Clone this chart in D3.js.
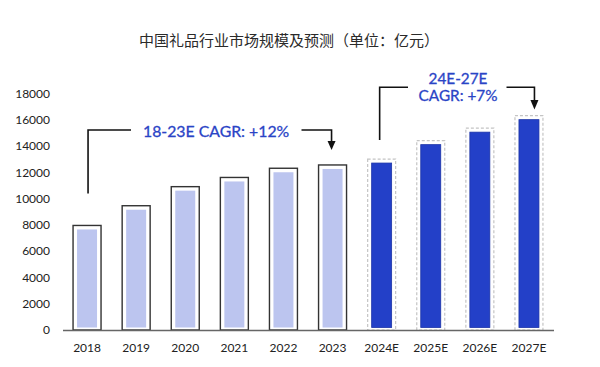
<!DOCTYPE html>
<html>
<head>
<meta charset="utf-8">
<script src="https://cdn.jsdelivr.net/npm/d3@7"></script>
<style>
  html, body { margin: 0; padding: 0; background: #fff; }
  svg { display: block; }
</style>
</head>
<body>
<div id="chart"></div>
<script>
/* --- データ --- */
const years = ["2018", "2019", "2020", "2021", "2022", "2023", "2024E", "2025E", "2026E", "2027E"];
const values = [7950, 9450, 10900, 11600, 12300, 12550, 13000, 14400, 15350, 16300];
const isForecast = [false, false, false, false, false, false, true, true, true, true];
const yTicks = [0, 2000, 4000, 6000, 8000, 10000, 12000, 14000, 16000, 18000];

const titleText = "中国礼品行业市场规模及预测（单位：亿元）";
const cagr1 = ["18-23E CAGR: +12%"];
const cagr2 = ["24E-27E", "CAGR: +7%"];

const width = 600, height = 367;
const margin = { top: 93.3, right: 46.5, bottom: 37, left: 62.5 };

const svg = d3.select("#chart").append("svg")
  .attr("width", width)
  .attr("height", height);

const x = d3.scaleBand()
  .domain(years)
  .range([margin.left, width - margin.right])
  .paddingInner(0.43)
  .paddingOuter(0.215);

const y = d3.scaleLinear()
  .domain([0, 18000])
  .range([height - margin.bottom, margin.top]);

const blue = "#2a44c6";

// タイトル
svg.append("text")
  .attr("x", 289)
  .attr("y", 39)
  .attr("text-anchor", "middle")
  .attr("dominant-baseline", "central")
  .attr("font-family", "'Noto Sans CJK SC', sans-serif")
  .attr("font-size", "15px")
  .attr("fill", "#2a2a2a")
  .text(titleText);

// Y軸ラベル
const yAxis = d3.axisLeft(y).tickValues(yTicks).tickFormat(d3.format("d")).tickSize(0).tickPadding(0);
svg.append("g")
  .attr("transform", "translate(50,0)")
  .call(yAxis)
  .call(g => g.select(".domain").remove())
  .call(g => g.selectAll("text")
    .attr("font-family", "Lato, sans-serif")
    .attr("font-size", "12px")
    .attr("fill", "#222"));

// 棒
const data = years.map((d, i) => ({ year: d, value: values[i], f: isForecast[i] }));
const inset = 4;

svg.append("g").selectAll("rect.outer")
  .data(data)
  .enter()
  .append("rect")
  .attr("class", "outer")
  .attr("x", d => x(d.year))
  .attr("y", d => y(d.value))
  .attr("width", x.bandwidth())
  .attr("height", d => y(0) - y(d.value))
  .attr("fill", "#fff")
  .attr("stroke", d => d.f ? "#c4c4c4" : "#333")
  .attr("stroke-width", d => d.f ? 1.2 : 1.4)
  .attr("stroke-dasharray", d => d.f ? "3,2" : null);

svg.append("g").selectAll("rect.inner")
  .data(data)
  .enter()
  .append("rect")
  .attr("class", "inner")
  .attr("x", d => x(d.year) + inset)
  .attr("y", d => y(d.value) + inset)
  .attr("width", x.bandwidth() - inset * 2)
  .attr("height", d => y(0) - y(d.value) - inset - 2.5)
  .attr("fill", d => d.f ? "#2340c8" : "#bcc5ef")
  .attr("stroke", d => d.f ? "#1c34a8" : "none")
  .attr("stroke-width", 0.8);

// X軸
const xAxis = d3.axisBottom(x).tickSize(0).tickPadding(13);
svg.append("g")
  .attr("transform", `translate(0,${y(0)})`)
  .call(xAxis)
  .call(g => g.select(".domain").attr("stroke", "#666").attr("stroke-width", 1.5))
  .call(g => g.selectAll("text")
    .attr("font-family", "Lato, sans-serif")
    .attr("font-size", "12px")
    .attr("fill", "#222"));

function cx(year) { return x(year) + x.bandwidth() / 2; }

// 注釈 1
const lv1 = 130;
svg.append("path")
  .attr("d", `M${cx("2018") + 1},${y(values[0]) - 32} V${lv1} H131`)
  .attr("fill", "none").attr("stroke", "#111").attr("stroke-width", 1.6);
svg.append("path")
  .attr("d", `M301.5,${lv1} H${cx("2023") - 1} V142`)
  .attr("fill", "none").attr("stroke", "#111").attr("stroke-width", 1.6);
svg.append("path")
  .attr("d", `M${cx("2023") - 5},141 H${cx("2023") + 3} L${cx("2023") - 1},150 Z`)
  .attr("fill", "#111");
svg.append("text")
  .attr("x", 143)
  .attr("y", lv1)
  .attr("dominant-baseline", "central")
  .attr("font-family", "Lato, sans-serif")
  .attr("font-size", "15.8px")
  .attr("fill", blue)
  .attr("stroke", blue)
  .attr("stroke-width", 0.3)
  .text(cagr1[0]);

// 注釈 2
const lv2 = 87.3;
svg.append("path")
  .attr("d", `M${cx("2024E") - 2},${y(values[6]) - 19} V${lv2} H408`)
  .attr("fill", "none").attr("stroke", "#111").attr("stroke-width", 1.6);
svg.append("path")
  .attr("d", `M506.5,${lv2} H${cx("2027E") + 5.5} V101`)
  .attr("fill", "none").attr("stroke", "#111").attr("stroke-width", 1.6);
svg.append("path")
  .attr("d", `M${cx("2027E") + 1.5},100 H${cx("2027E") + 9.5} L${cx("2027E") + 5.5},109.5 Z`)
  .attr("fill", "#111");
svg.selectAll("text.cagr2")
  .data(cagr2)
  .enter()
  .append("text")
  .attr("class", "cagr2")
  .attr("x", 458)
  .attr("y", (d, i) => 78 + i * 17)
  .attr("text-anchor", "middle")
  .attr("dominant-baseline", "central")
  .attr("font-family", "Lato, sans-serif")
  .attr("font-size", "15.3px")
  .attr("fill", blue)
  .attr("stroke", blue)
  .attr("stroke-width", 0.3)
  .text(d => d);
</script>
</body>
</html>
